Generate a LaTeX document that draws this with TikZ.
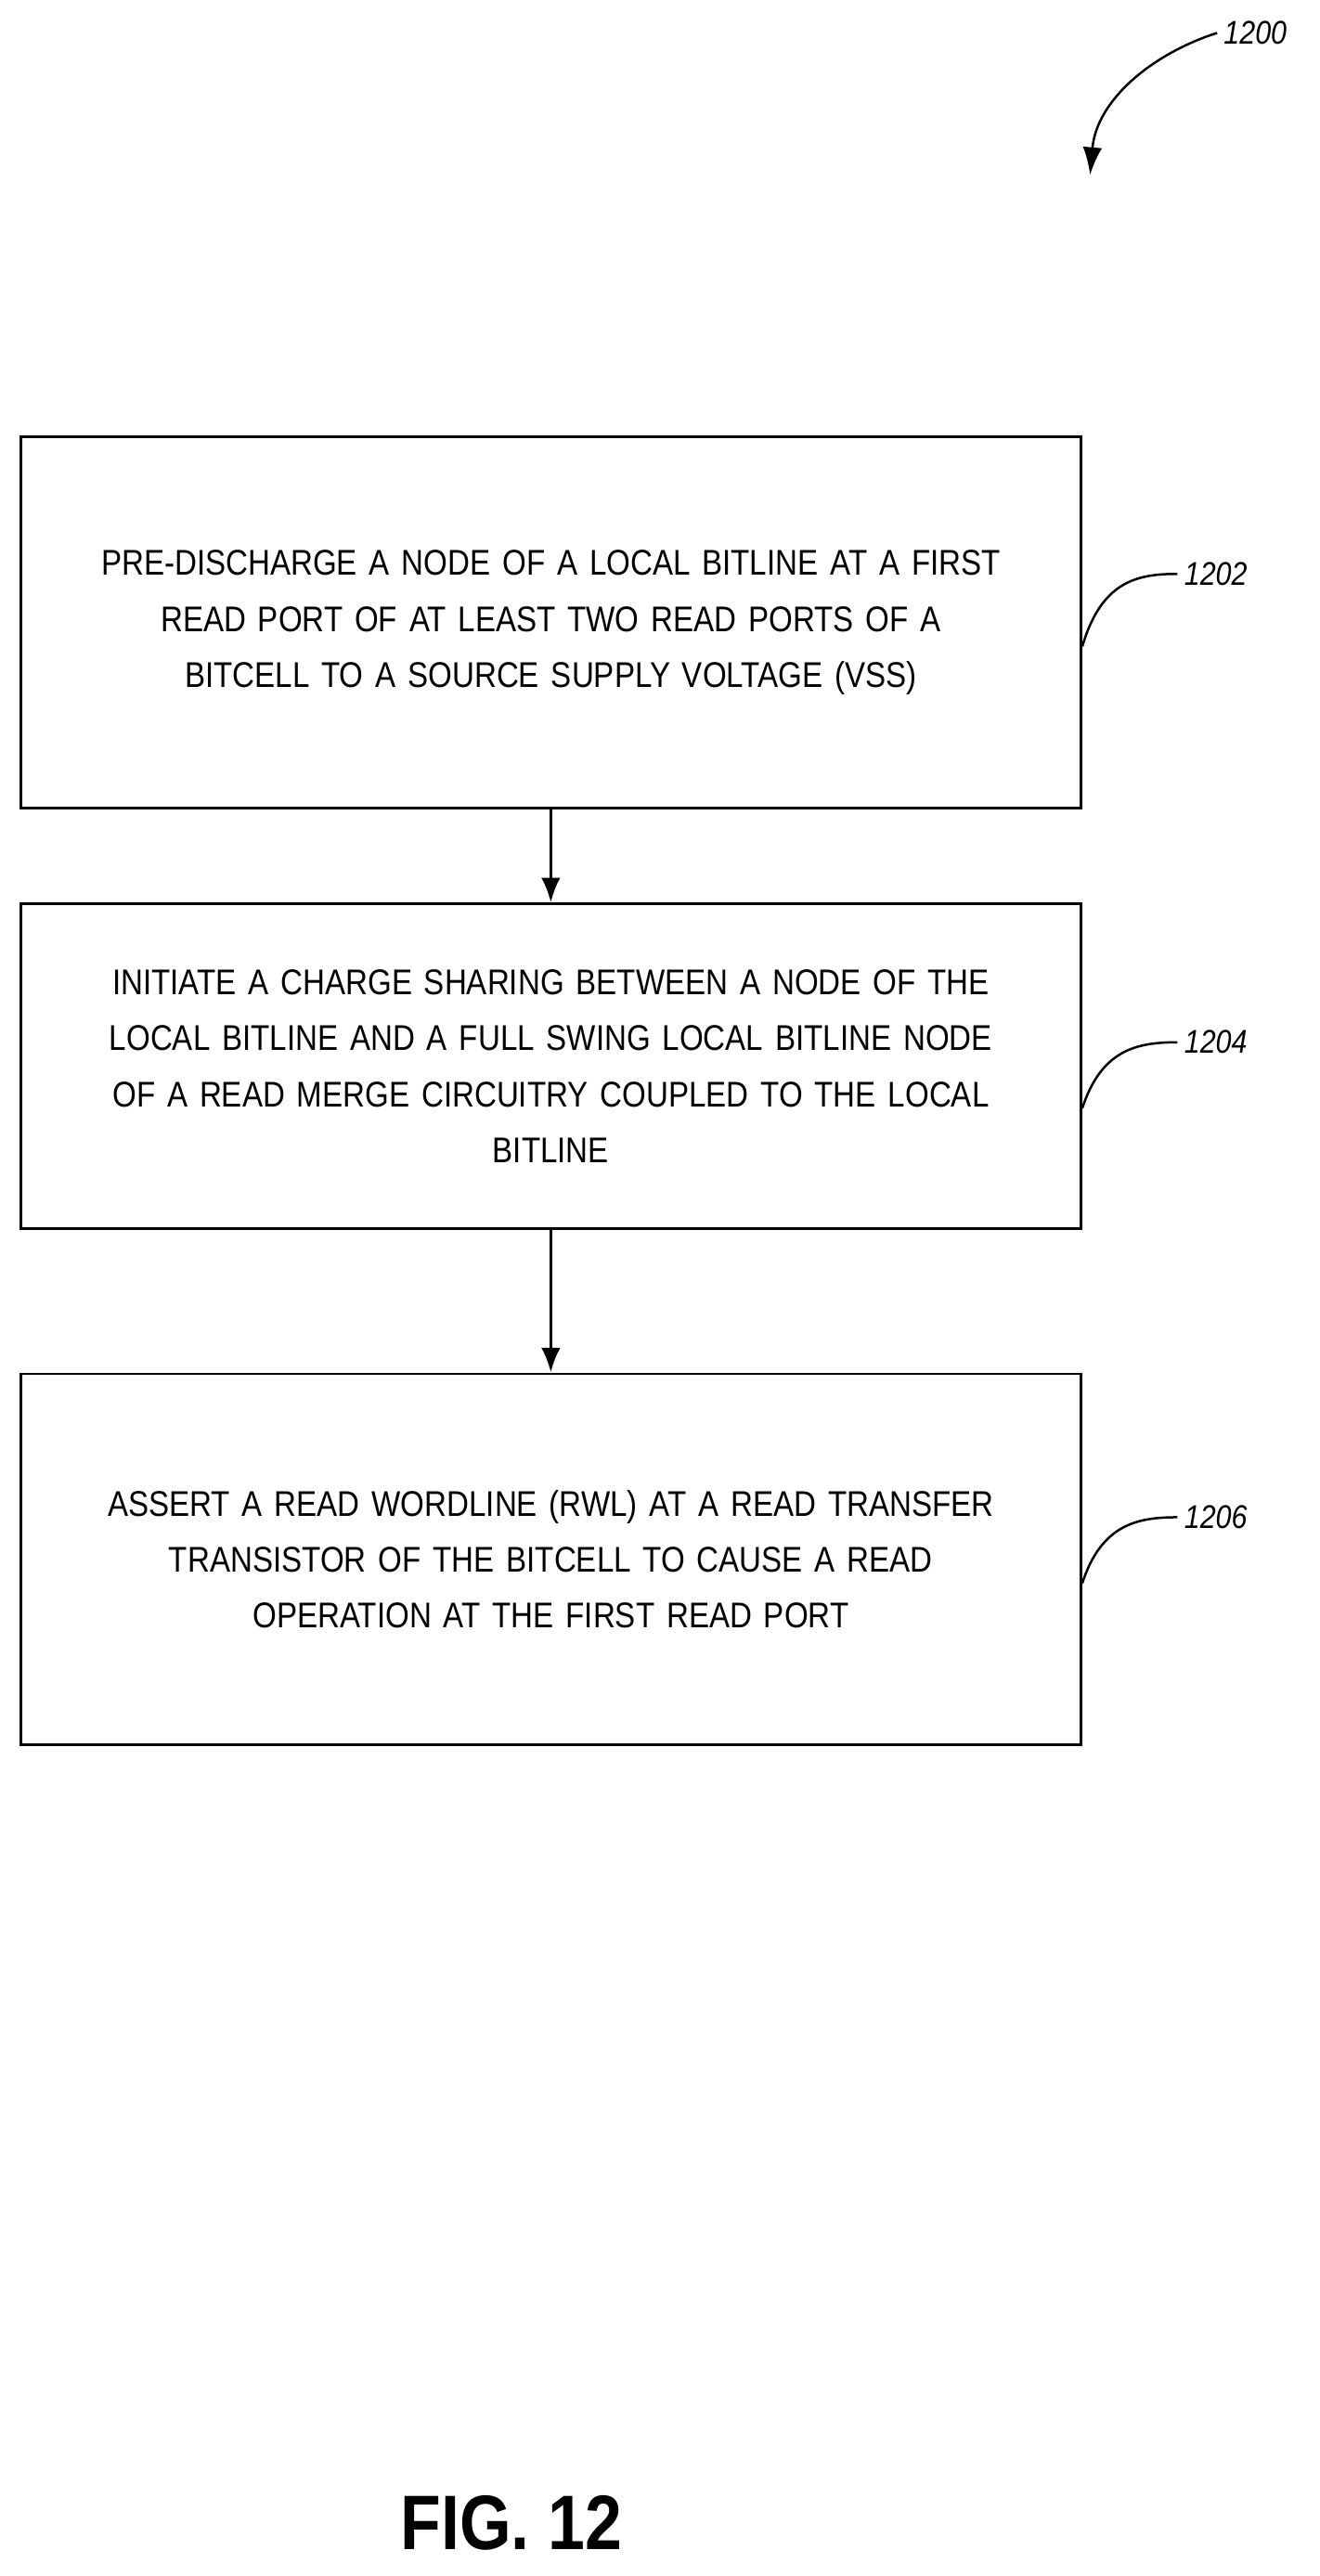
\documentclass[tikz,border=0pt]{standalone}
\usepackage{fontspec}
\setmainfont{Liberation Sans}[FakeStretch=0.86]
\usetikzlibrary{positioning}
\usetikzlibrary{arrows.meta}
\tikzset{
  stepbox/.style={draw, line width=1.3pt, text width=19.2cm, align=center,
    minimum width=19.29cm, font=\fontsize{18.5}{29}\selectfont, inner sep=0pt},
  flow/.style={line width=1.6pt, -{Latex[length=0.45cm,width=0.35cm]}},
  ref/.style={font=\fontsize{17}{20}\selectfont\itshape},
  lead/.style={line width=1.2pt}
}
\begin{document}
\begin{tikzpicture}[x=0.03cm,y=-0.03cm]
\useasboundingbox (0,0) rectangle (800,1562);
% steps
\node[stepbox, minimum height=6.75cm] (s1) at (334,377.5) {PRE-DISCHARGE A NODE OF A LOCAL BITLINE AT A FIRST\\ READ PORT OF AT LEAST TWO READ PORTS OF A\\ BITCELL TO A SOURCE SUPPLY VOLTAGE (VSS)};
\node[stepbox, minimum height=5.91cm] (s2) at (334,646.5) {INITIATE A CHARGE SHARING BETWEEN A NODE OF THE\\ LOCAL BITLINE AND A FULL SWING LOCAL BITLINE NODE\\ OF A READ MERGE CIRCUITRY COUPLED TO THE LOCAL\\ BITLINE};
\node[stepbox, minimum height=6.75cm] (s3) at (334,945.5) {ASSERT A READ WORDLINE (RWL) AT A READ TRANSFER\\ TRANSISTOR OF THE BITCELL TO CAUSE A READ\\ OPERATION AT THE FIRST READ PORT};
\draw[flow] (s1.south) -- (s2.north);
\draw[flow] (s2.south) -- (s3.north);
% reference numerals
\node[ref, anchor=west] (r1202) at (714,348) {1202};
\node[ref, anchor=west] (r1204) at (714,632) {1204};
\node[ref, anchor=west] (r1206) at (714,920) {1206};
\node[ref, anchor=west] (r1200) at (738,20) {1200};
\draw[lead] (s1.east |- 0,392) .. controls (668,352) and (690,348) .. (r1202.west);
\draw[lead] (s2.east |- 0,672) .. controls (668,636) and (690,632) .. (r1204.west);
\draw[lead] (s3.east |- 0,960) .. controls (668,924) and (690,920) .. (r1206.west);
\coordinate (tip) at (661,106);
\draw[lead, -{Latex[length=0.5cm,width=0.35cm]}] (r1200.west) .. controls (700,32) and (665,60) .. (tip);
\node[font=\fontsize{40}{44}\selectfont\bfseries] (fig) at (310,1530) {FIG. 12};
\end{tikzpicture}
\end{document}
